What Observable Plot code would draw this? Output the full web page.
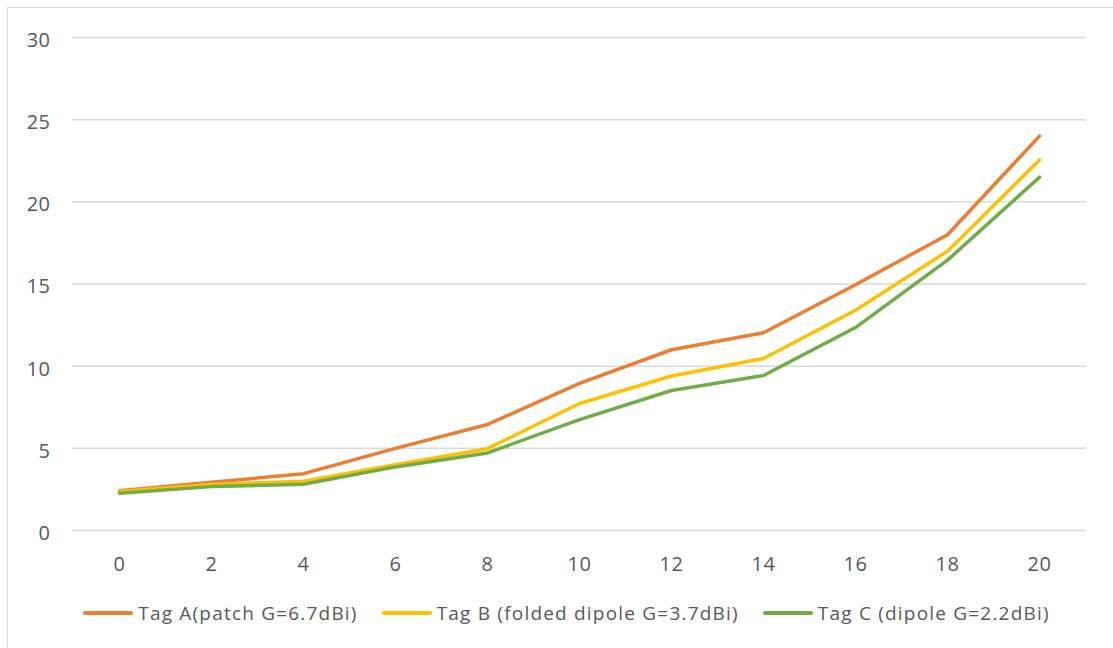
<!DOCTYPE html>
<html>
<head>
<meta charset="utf-8">
<script src="https://cdn.jsdelivr.net/npm/d3@7"></script>
<script src="https://cdn.jsdelivr.net/npm/@observablehq/plot@0.6"></script>
<style>
  html, body { margin: 0; padding: 0; background: #fff; }
  #frame { position: absolute; left: 7px; top: 7px; width: 1110px; height: 645px; border: 1px solid #D9D9D9; box-sizing: border-box; }
  #chart { position: absolute; left: 0; top: 0; }
  #legend { position: absolute; left: 0; top: 600px; width: 1113px; display: flex; justify-content: center; font-family: "Open Sans", sans-serif; font-size: 19px; letter-spacing: 1.2px; color: #595959; padding-left: 20px; box-sizing: border-box; }
  .item { display: flex; align-items: center; margin: 0 12px; }
  .sw { width: 50px; height: 4px; border-radius: 2px; margin-right: 5px; }
</style>
</head>
<body>
<div id="frame"></div>
<div id="chart"></div>
<div id="legend"></div>
<script>
const categories = [0, 2, 4, 6, 8, 10, 12, 14, 16, 18, 20];
const seriesNames = ["Tag A(patch G=6.7dBi)", "Tag B (folded dipole G=3.7dBi)", "Tag C (dipole G=2.2dBi)"];
const tagA = [2.42, 2.93, 3.46, 5.0, 6.45, 8.95, 11.0, 12.03, 14.95, 18.0, 24.0];
const tagB = [2.38, 2.8, 3.0, 4.0, 4.98, 7.73, 9.4, 10.47, 13.4, 17.0, 22.55];
const tagC = [2.27, 2.67, 2.82, 3.87, 4.72, 6.75, 8.52, 9.43, 12.35, 16.45, 21.5];
const colors = ["#ED7D31", "#FFC000", "#70AD47"];
const yTicks = [0, 5, 10, 15, 20, 25, 30];

const seriesValues = [tagA, tagB, tagC];
const data = [];
seriesValues.forEach((vals, si) => {
  vals.forEach((v, i) => data.push({series: seriesNames[si], x: categories[i], y: v}));
});

const chart = Plot.plot({
  width: 1113,
  height: 592,
  marginLeft: 72,
  marginRight: 27,
  marginTop: 37,
  marginBottom: 62,
  style: { fontFamily: "Open Sans, sans-serif", fontSize: "20px", color: "#595959", background: "transparent", letterSpacing: "0.5px" },
  x: { type: "point", domain: categories, padding: 0.5, label: null },
  y: { domain: [0, 30], ticks: yTicks, label: null },
  color: { domain: seriesNames, range: colors },
  marks: [
    Plot.gridY(yTicks, { stroke: "#D9D9D9", strokeOpacity: 1, strokeWidth: 1.5 }),
    Plot.axisY(yTicks, { tickSize: 0, tickPadding: 22, fill: "#595959", fontSize: 20, dy: 3 }),
    Plot.axisX(categories, { tickSize: 0, tickPadding: 26, fill: "#595959", fontSize: 20 }),
    Plot.line(data, { x: "x", y: "y", z: "series", stroke: "series", strokeWidth: 3.5, strokeLinecap: "round", strokeLinejoin: "round" })
  ]
});
document.getElementById("chart").appendChild(chart);

const legend = document.getElementById("legend");
seriesNames.forEach((n, i) => {
  const it = document.createElement("div");
  it.className = "item";
  const sw = document.createElement("div");
  sw.className = "sw";
  sw.style.background = colors[i];
  const t = document.createElement("span");
  t.textContent = n;
  it.appendChild(sw);
  it.appendChild(t);
  legend.appendChild(it);
});
</script>
</body>
</html>
